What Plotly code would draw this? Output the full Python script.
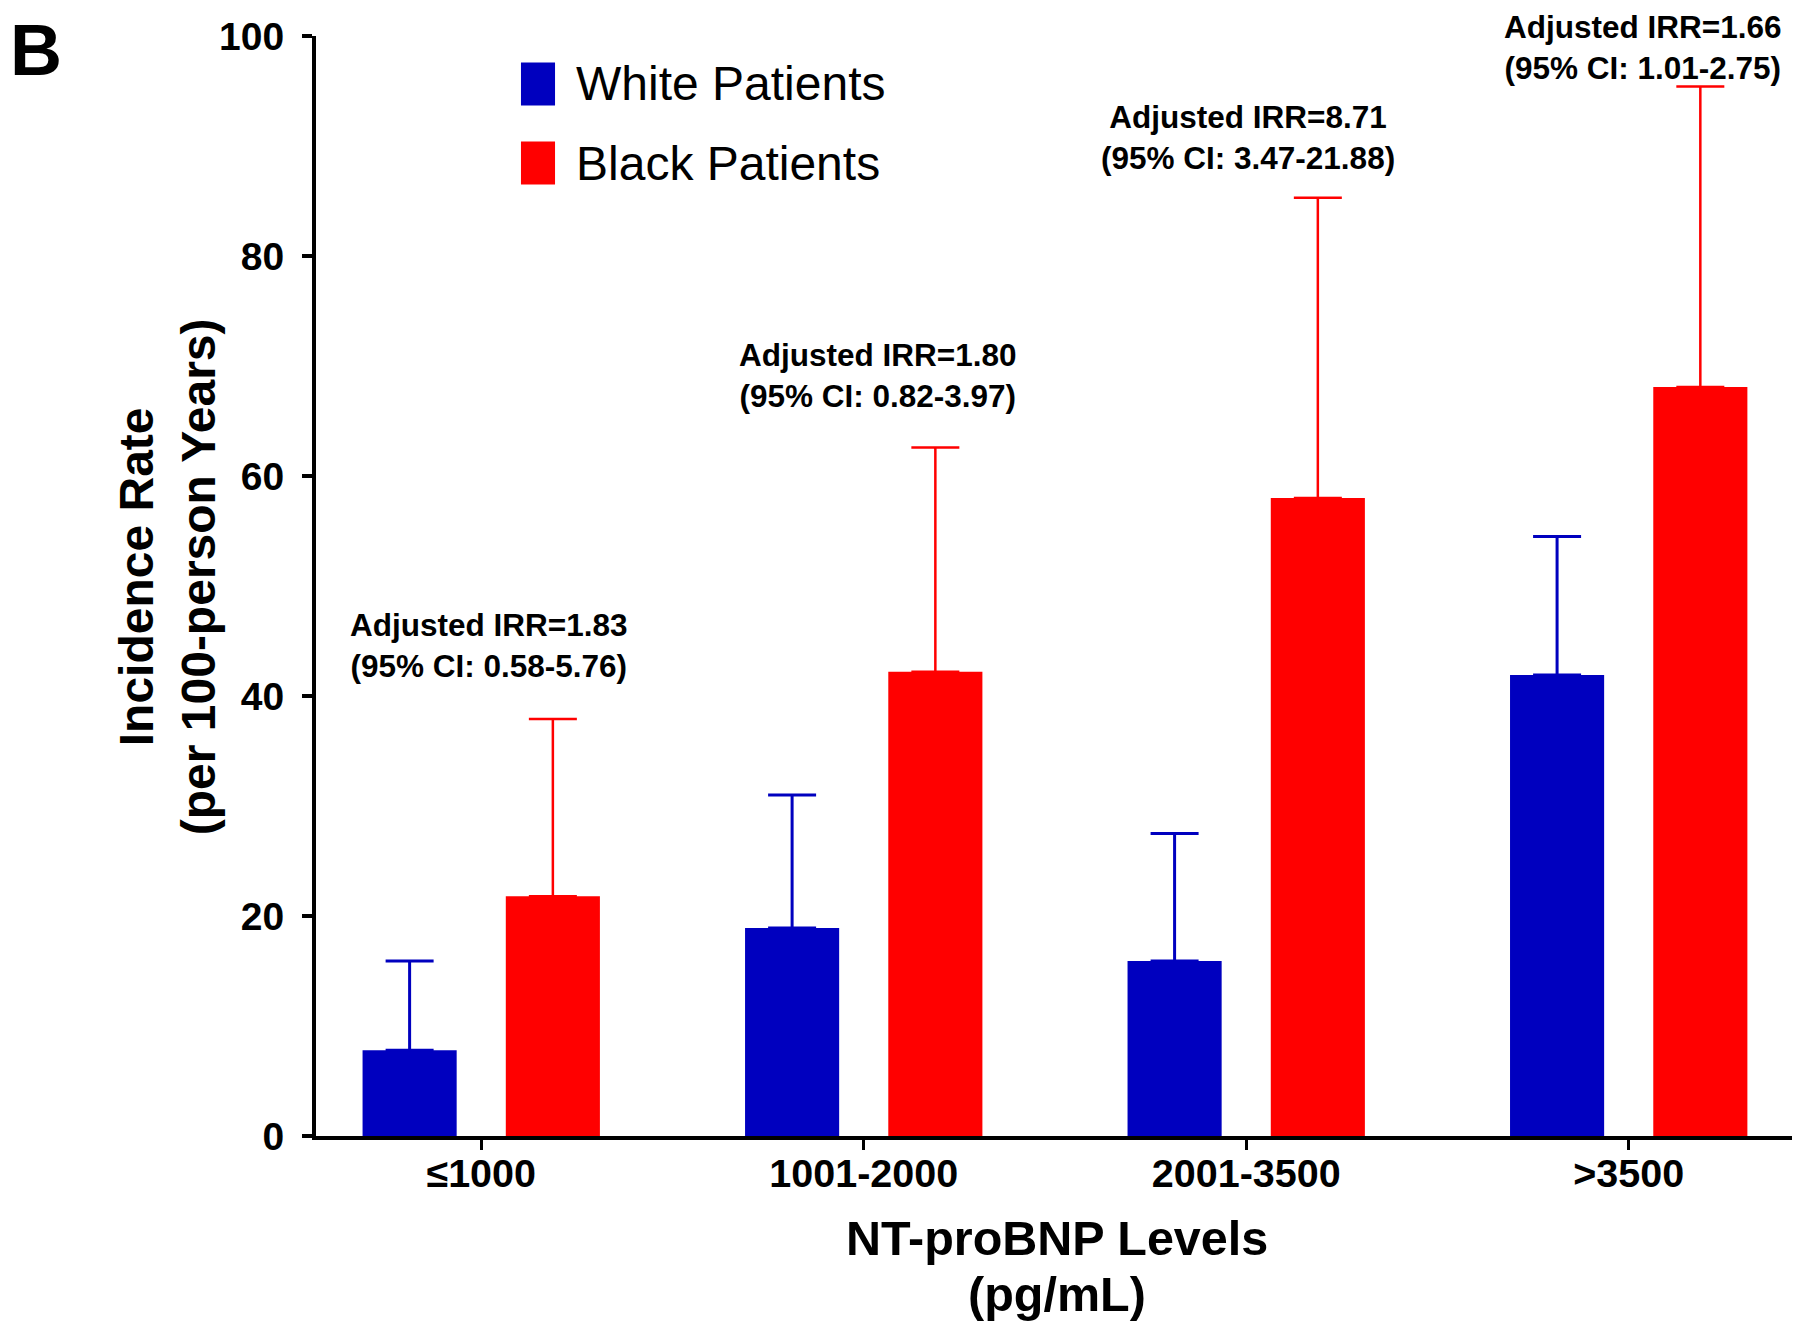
import plotly.graph_objects as go

categories = ["≤1000", "1001-2000", "2001-3500", ">3500"]
white_rate = [7.8, 18.9, 15.9, 41.9]
white_upper = [15.9, 31.0, 27.5, 54.5]
black_rate = [21.8, 42.2, 58.0, 68.1]
black_upper = [37.9, 62.6, 85.3, 95.4]
irr_labels = [
    "Adjusted IRR=1.83<br>(95% CI: 0.58-5.76)",
    "Adjusted IRR=1.80<br>(95% CI: 0.82-3.97)",
    "Adjusted IRR=8.71<br>(95% CI: 3.47-21.88)",
    "Adjusted IRR=1.66<br>(95% CI: 1.01-2.75)",
]
irr_y = [44.6, 69.1, 90.8, 99.0]
series_names = ["White Patients", "Black Patients"]
x_title_lines = ["NT-proBNP Levels", "(pg/mL)"]
y_title = "Incidence Rate<br>(per 100-person Years)"
y_range = [0, 100]

BLUE = "#0000BF"
RED = "#FF0000"
FONT = "Liberation Sans, Arial, sans-serif"

idx = list(range(len(categories)))

fig = go.Figure()
fig.add_trace(go.Bar(
    x=idx, y=white_rate, name=series_names[0],
    marker=dict(color=BLUE, line=dict(width=0)),
    error_y=dict(type="data", symmetric=False,
                 array=[u - v for u, v in zip(white_upper, white_rate)],
                 arrayminus=[0] * len(white_rate),
                 color=BLUE, thickness=3, width=24),
))
fig.add_trace(go.Bar(
    x=idx, y=black_rate, name=series_names[1],
    marker=dict(color=RED, line=dict(width=0)),
    error_y=dict(type="data", symmetric=False,
                 array=[u - v for u, v in zip(black_upper, black_rate)],
                 arrayminus=[0] * len(black_rate),
                 color=RED, thickness=2.5, width=24),
))

annotations = []
offsets = [0.02, 0.037, 0.005, 0.037]
for i, (txt, yy) in enumerate(zip(irr_labels, irr_y)):
    # y given in axis units, converted to the y-axis domain so that labels
    # near/above the top of the axis are still drawn
    annotations.append(dict(
        x=i + offsets[i], y=(yy - y_range[0]) / (y_range[1] - y_range[0]),
        xref="x", yref="y domain", text=txt,
        showarrow=False, xanchor="center", yanchor="middle",
        font=dict(family=FONT, size=31.5, color="black", weight=700),
        align="center",
    ))

# Legend (manual, to match the large swatches)
legend_colors = [BLUE, RED]
legend_y = [0.9564, 0.8845]
shapes = []
for col, ly in zip(legend_colors, legend_y):
    shapes.append(dict(type="rect", xref="paper", yref="paper",
                       x0=0.1384, x1=0.1614, y0=ly - 0.0195, y1=ly + 0.0195,
                       fillcolor=col, line=dict(width=0)))
for name, ly in zip(series_names, legend_y):
    annotations.append(dict(
        x=0.1742, y=ly, xref="paper", yref="paper", text=name,
        showarrow=False, xanchor="left", yanchor="middle",
        font=dict(family=FONT, size=48, color="black"),
    ))

# Axis titles
for line, ly in zip(x_title_lines, [-0.0927, -0.1436]):
    annotations.append(dict(
        x=0.5, y=ly, xref="paper", yref="paper", text=line,
        showarrow=False, xanchor="center", yanchor="middle",
        font=dict(family=FONT, size=48.5, color="black", weight=700),
    ))
annotations.append(dict(
    x=-0.1006, y=0.508, xref="paper", yref="paper", text=y_title,
    showarrow=False, xanchor="center", yanchor="middle", align="center",
    textangle=-90,
    font=dict(family=FONT, size=48, color="black", weight=700),
))

# Panel label
annotations.append(dict(
    x=-0.208, y=1.0255, xref="paper", yref="paper", text="B",
    showarrow=False, xanchor="left", yanchor="top",
    font=dict(family=FONT, size=72, color="black", weight=900),
))

# The page body adds an 8 px offset; the figure is sized so the plot
# area lands where the reference has it in the 1800x1321 window.
fig.update_layout(
    width=1792, height=1313,
    margin=dict(l=308, r=3, t=28, b=185, autoexpand=False),
    paper_bgcolor="white", plot_bgcolor="white",
    barmode="group", bargap=0.251, bargroupgap=0.343,
    showlegend=False,
    annotations=annotations, shapes=shapes,
    font=dict(family=FONT, color="black"),
)
fig.update_xaxes(
    tickmode="array", tickvals=idx, ticktext=categories,
    range=[-0.432, 3.44], automargin=False,
    showline=True, linecolor="black", linewidth=4,
    ticks="outside", ticklen=10, tickwidth=3, tickcolor="black",
    tickfont=dict(family=FONT, size=39.5, color="black", weight=700),
    ticklabelstandoff=-10,
    showgrid=False, zeroline=False,
)
fig.update_yaxes(
    range=y_range, tickvals=[0, 20, 40, 60, 80, 100], automargin=False,
    showline=True, linecolor="black", linewidth=4,
    ticks="outside", ticklen=10, tickwidth=4, tickcolor="black",
    tickfont=dict(family=FONT, size=39, color="black", weight=700),
    ticklabelstandoff=10,
    showgrid=False, zeroline=False,
)

fig.write_html("out.html")
